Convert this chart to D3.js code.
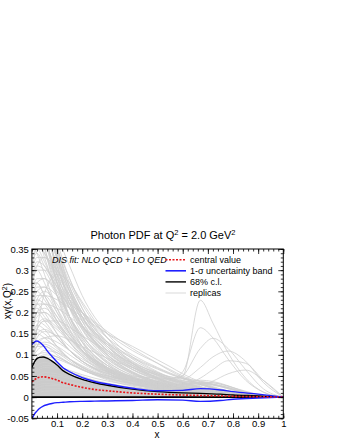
<!DOCTYPE html>
<html lang="en">
<head>
<meta charset="UTF-8">
<title>Photon PDF</title>
<script src="https://d3js.org/d3.v7.min.js"></script>
<style>
  body { margin: 0; background: #fff; }
  text { font-family: "Liberation Sans", Arial, sans-serif; }
</style>
</head>
<body>
<svg width="340" height="440"></svg>
<script>
    // x grid for the central value and the bands
    var bandX = [0, 0.01, 0.02, 0.03, 0.045, 0.06, 0.08, 0.1, 0.125, 0.15, 0.2, 0.25, 0.3, 0.4, 0.5, 0.6, 0.67, 0.75, 0.8, 0.9, 1];
    var central = [0.036, 0.041, 0.045, 0.047, 0.048, 0.047, 0.044, 0.040, 0.034, 0.030, 0.023, 0.018, 0.015, 0.010, 0.007, 0.005, 0.004, 0.003, 0.002, 0.001, 0];
    var cl68 = [0.070, 0.083, 0.091, 0.094, 0.095, 0.092, 0.085, 0.076, 0.062, 0.054, 0.042, 0.034, 0.028, 0.019, 0.013, 0.010, 0.009, 0.007, 0.005, 0.003, 0];
    var sigmaUp = [0.124, 0.130, 0.1325, 0.130, 0.122, 0.110, 0.096, 0.083, 0.069, 0.060, 0.046, 0.037, 0.031, 0.021, 0.015, 0.016, 0.020, 0.017, 0.013, 0.007, 0];
    var sigmaDown = [-0.052, -0.040, -0.033, -0.027, -0.021, -0.018, -0.015, -0.013, -0.012, -0.011, -0.010, -0.0095, -0.009, -0.008, -0.006, -0.007, -0.010, -0.008, -0.005, -0.002, 0];

    // x grid shared by the replicas
    var replicaX = [0, 0.02, 0.05, 0.1, 0.15, 0.2, 0.3, 0.4, 0.5, 0.55, 0.6, 0.67, 0.72, 0.78, 0.85, 0.92, 1];
    var replicas = [
        [0.80,0.62,0.45,0.29,0.19,0.13,0.065,0.035,0.02,0.015,0.012,0.009,0.007,0.005,0.003,0.001,0],
        [0.55,0.50,0.40,0.27,0.18,0.12,0.06,0.032,0.018,0.014,0.011,0.008,0.006,0.004,0.002,0.001,0],
        [0.42,0.42,0.37,0.27,0.19,0.135,0.07,0.04,0.024,0.018,0.014,0.011,0.008,0.006,0.003,0.001,0],
        [0.08,0.16,0.245,0.29,0.27,0.225,0.14,0.08,0.045,0.033,0.024,0.016,0.012,0.008,0.004,0.001,0],
        [0.35,0.37,0.34,0.26,0.19,0.14,0.08,0.047,0.028,0.021,0.016,0.012,0.009,0.006,0.003,0.001,0],
        [0.28,0.31,0.30,0.24,0.18,0.13,0.075,0.045,0.027,0.02,0.015,0.011,0.008,0.006,0.003,0.001,0],
        [0.22,0.26,0.26,0.21,0.16,0.12,0.07,0.043,0.027,0.02,0.015,0.011,0.008,0.006,0.003,0.001,0],
        [0.16,0.20,0.21,0.18,0.14,0.105,0.062,0.038,0.024,0.018,0.014,0.01,0.008,0.005,0.003,0.001,0],
        [0.12,0.15,0.16,0.14,0.11,0.085,0.052,0.033,0.021,0.016,0.012,0.009,0.007,0.005,0.002,0.001,0],
        [0.09,0.11,0.12,0.105,0.085,0.066,0.041,0.026,0.017,0.013,0.01,0.008,0.006,0.004,0.002,0.001,0],
        [0.06,0.075,0.082,0.074,0.061,0.049,0.031,0.02,0.013,0.01,0.008,0.006,0.005,0.003,0.002,0.001,0],
        [0.03,0.04,0.045,0.042,0.036,0.03,0.02,0.013,0.009,0.007,0.005,0.004,0.003,0.002,0.001,0,0],
        [0.65,0.56,0.44,0.30,0.21,0.15,0.08,0.045,0.026,0.019,0.014,0.01,0.008,0.005,0.003,0.001,0],
        [0.18,0.22,0.24,0.23,0.21,0.19,0.15,0.12,0.088,0.072,0.055,0.036,0.025,0.015,0.007,0.002,0],
        [0.25,0.28,0.28,0.25,0.22,0.2,0.155,0.115,0.08,0.062,0.047,0.03,0.02,0.012,0.005,0.002,0],
        [0.30,0.33,0.33,0.28,0.23,0.185,0.12,0.08,0.052,0.04,0.031,0.021,0.015,0.009,0.004,0.001,0],
        [0.2,0.22,0.2,0.15,0.11,0.085,0.06,0.05,0.045,0.044,0.05,0.229,0.175,0.105,0.045,0.012,0],
        [0.15,0.17,0.16,0.12,0.09,0.07,0.05,0.042,0.04,0.042,0.06,0.164,0.14,0.09,0.04,0.012,0],
        [0.1,0.12,0.12,0.1,0.08,0.065,0.047,0.04,0.037,0.038,0.05,0.115,0.139,0.115,0.065,0.02,0],
        [0.14,0.16,0.15,0.12,0.09,0.07,0.05,0.04,0.035,0.035,0.04,0.07,0.095,0.109,0.085,0.035,0],
        [0.2,0.21,0.19,0.15,0.11,0.085,0.055,0.04,0.032,0.03,0.03,0.045,0.065,0.086,0.08,0.04,0],
        [0.26,0.27,0.24,0.18,0.13,0.095,0.057,0.037,0.027,0.024,0.023,0.028,0.038,0.055,0.064,0.04,0],
        [0.32,0.34,0.31,0.26,0.23,0.2,0.15,0.11,0.08,0.065,0.05,0.033,0.023,0.014,0.006,0.002,0],
        [0.5,0.47,0.39,0.28,0.21,0.16,0.1,0.065,0.042,0.033,0.025,0.017,0.012,0.008,0.004,0.001,0],
        [0.38,0.38,0.33,0.24,0.17,0.12,0.065,0.037,0.022,0.017,0.013,0.01,0.007,0.005,0.002,0.001,0],
        [0.2,0.24,0.24,0.2,0.155,0.12,0.075,0.048,0.031,0.024,0.018,0.013,0.01,0.007,0.003,0.001,0],
        [0.14,0.17,0.185,0.165,0.135,0.105,0.067,0.043,0.028,0.022,0.017,0.012,0.009,0.006,0.003,0.001,0],
        [0.1,0.13,0.14,0.13,0.11,0.09,0.06,0.04,0.027,0.021,0.016,0.012,0.009,0.006,0.003,0.001,0],
        [0.045,0.06,0.07,0.068,0.058,0.048,0.033,0.023,0.016,0.012,0.01,0.007,0.005,0.004,0.002,0.001,0],
        [0.02,0.028,0.032,0.03,0.026,0.022,0.015,0.01,0.007,0.005,0.004,0.003,0.002,0.002,0.001,0,0],
        [0.9,0.7,0.5,0.32,0.22,0.16,0.09,0.055,0.034,0.026,0.02,0.014,0.01,0.007,0.003,0.001,0],
        [0.6,0.52,0.42,0.31,0.23,0.17,0.1,0.06,0.037,0.028,0.021,0.015,0.011,0.007,0.003,0.001,0],
        [0.45,0.44,0.38,0.29,0.22,0.17,0.105,0.066,0.042,0.032,0.024,0.017,0.012,0.008,0.004,0.001,0],
        [0.27,0.3,0.3,0.27,0.22,0.17,0.1,0.06,0.036,0.027,0.02,0.014,0.01,0.007,0.003,0.001,0],
        [0.19,0.22,0.22,0.19,0.15,0.115,0.068,0.04,0.024,0.018,0.013,0.01,0.007,0.005,0.002,0.001,0],
        [0.11,0.125,0.125,0.11,0.09,0.072,0.047,0.031,0.021,0.017,0.014,0.011,0.009,0.007,0.004,0.001,0],
        [0.16,0.18,0.17,0.14,0.11,0.085,0.055,0.038,0.03,0.028,0.03,0.036,0.034,0.026,0.014,0.004,0],
        [0.24,0.25,0.23,0.18,0.14,0.11,0.07,0.047,0.034,0.03,0.03,0.033,0.03,0.022,0.011,0.003,0],
        [0.13,0.15,0.14,0.115,0.09,0.07,0.045,0.032,0.025,0.024,0.026,0.03,0.028,0.02,0.01,0.003,0],
        [0.7,0.6,0.47,0.33,0.24,0.18,0.11,0.07,0.045,0.035,0.027,0.019,0.014,0.009,0.004,0.001,0],
        [0.4,0.41,0.37,0.3,0.24,0.19,0.125,0.083,0.055,0.043,0.033,0.023,0.017,0.011,0.005,0.001,0],
        [0.33,0.35,0.32,0.25,0.19,0.145,0.09,0.057,0.037,0.029,0.022,0.016,0.012,0.008,0.004,0.001,0],
        [0.07,0.09,0.1,0.095,0.08,0.066,0.045,0.031,0.021,0.017,0.013,0.01,0.008,0.005,0.002,0.001,0],
        [0.04,0.05,0.058,0.055,0.047,0.039,0.027,0.019,0.013,0.01,0.008,0.006,0.005,0.003,0.002,0.001,0],
        [0.01,0.015,0.02,0.02,0.018,0.015,0.01,0.007,0.005,0.004,0.003,0.002,0.002,0.001,0.001,0,0],
        [0.52,0.46,0.36,0.24,0.16,0.11,0.058,0.032,0.019,0.014,0.011,0.008,0.006,0.004,0.002,0.001,0],
        [0.3,0.3,0.27,0.2,0.15,0.11,0.064,0.039,0.025,0.019,0.015,0.011,0.008,0.005,0.003,0.001,0],
        [0.21,0.23,0.22,0.17,0.13,0.1,0.062,0.04,0.027,0.021,0.017,0.013,0.01,0.007,0.003,0.001,0],
        [0.085,0.1,0.105,0.095,0.08,0.065,0.043,0.029,0.02,0.016,0.012,0.009,0.007,0.005,0.002,0.001,0],
        [0.17,0.2,0.2,0.17,0.14,0.11,0.07,0.046,0.031,0.025,0.02,0.015,0.011,0.007,0.003,0.001,0],
        [1.0,0.75,0.52,0.33,0.23,0.165,0.095,0.058,0.036,0.028,0.021,0.015,0.011,0.007,0.003,0.001,0],
        [0.75,0.66,0.52,0.36,0.26,0.19,0.11,0.065,0.04,0.031,0.024,0.017,0.012,0.008,0.004,0.001,0],
        [0.62,0.58,0.48,0.35,0.26,0.2,0.12,0.075,0.047,0.036,0.028,0.019,0.014,0.009,0.004,0.001,0],
        [0.48,0.5,0.45,0.35,0.27,0.21,0.13,0.08,0.05,0.039,0.03,0.021,0.015,0.009,0.004,0.001,0],
        [0.36,0.42,0.42,0.35,0.28,0.21,0.125,0.075,0.045,0.034,0.026,0.018,0.013,0.008,0.004,0.001,0],
        [0.3,0.36,0.38,0.33,0.26,0.2,0.12,0.072,0.044,0.034,0.026,0.018,0.013,0.008,0.004,0.001,0],
        [0.26,0.31,0.33,0.3,0.25,0.2,0.13,0.085,0.055,0.042,0.032,0.022,0.016,0.01,0.004,0.001,0],
        [0.55,0.55,0.47,0.34,0.25,0.18,0.1,0.058,0.034,0.026,0.02,0.014,0.01,0.007,0.003,0.001,0],
        [0.44,0.46,0.41,0.31,0.23,0.17,0.095,0.055,0.033,0.025,0.019,0.013,0.01,0.006,0.003,0.001,0],
        [0.23,0.27,0.28,0.24,0.19,0.145,0.085,0.05,0.03,0.023,0.018,0.013,0.01,0.006,0.003,0.001,0],
        [0.18,0.23,0.25,0.22,0.17,0.13,0.075,0.045,0.028,0.022,0.017,0.012,0.009,0.006,0.003,0.001,0],
        [0.15,0.19,0.2,0.175,0.14,0.11,0.067,0.042,0.028,0.022,0.018,0.013,0.01,0.007,0.003,0.001,0],
        [0.12,0.16,0.18,0.16,0.13,0.1,0.065,0.043,0.03,0.025,0.02,0.015,0.011,0.007,0.003,0.001,0],
        [0.095,0.12,0.13,0.12,0.1,0.08,0.052,0.036,0.026,0.022,0.02,0.016,0.013,0.008,0.004,0.001,0],
        [0.065,0.085,0.095,0.09,0.078,0.064,0.045,0.033,0.025,0.022,0.02,0.017,0.013,0.009,0.004,0.001,0],
        [0.05,0.065,0.075,0.072,0.063,0.053,0.038,0.028,0.022,0.02,0.019,0.016,0.013,0.009,0.004,0.001,0],
        [0.035,0.045,0.052,0.05,0.044,0.038,0.028,0.022,0.018,0.017,0.017,0.015,0.012,0.008,0.004,0.001,0],
        [0.28,0.32,0.31,0.26,0.21,0.17,0.11,0.075,0.055,0.048,0.044,0.038,0.03,0.02,0.009,0.002,0],
        [0.34,0.36,0.34,0.29,0.24,0.2,0.14,0.1,0.07,0.057,0.046,0.032,0.023,0.014,0.006,0.002,0],
        [0.21,0.25,0.26,0.24,0.21,0.18,0.13,0.095,0.068,0.055,0.044,0.03,0.021,0.013,0.005,0.001,0],
        [0.16,0.2,0.22,0.21,0.19,0.165,0.125,0.092,0.066,0.054,0.044,0.031,0.022,0.013,0.005,0.001,0],
        [0.13,0.16,0.18,0.18,0.165,0.145,0.11,0.08,0.058,0.048,0.04,0.03,0.022,0.013,0.005,0.001,0],
        [0.09,0.12,0.14,0.145,0.135,0.12,0.092,0.07,0.052,0.044,0.038,0.03,0.022,0.013,0.005,0.001,0],
        [0.42,0.4,0.35,0.27,0.21,0.165,0.105,0.07,0.048,0.04,0.036,0.034,0.03,0.022,0.01,0.003,0],
        [0.58,0.5,0.39,0.27,0.19,0.14,0.083,0.052,0.035,0.03,0.03,0.035,0.034,0.026,0.012,0.003,0],
        [0.36,0.34,0.29,0.21,0.15,0.11,0.065,0.042,0.03,0.027,0.028,0.032,0.03,0.022,0.01,0.003,0],
        [0.27,0.27,0.24,0.19,0.145,0.11,0.07,0.047,0.035,0.032,0.034,0.04,0.037,0.027,0.012,0.003,0],
        [0.2,0.2,0.18,0.14,0.11,0.085,0.056,0.04,0.031,0.029,0.03,0.033,0.031,0.023,0.011,0.003,0],
        [0.85,0.68,0.5,0.34,0.25,0.19,0.12,0.078,0.052,0.042,0.034,0.024,0.017,0.01,0.004,0.001,0],
        [0.66,0.6,0.5,0.37,0.28,0.22,0.14,0.09,0.058,0.045,0.035,0.024,0.017,0.01,0.004,0.001,0],
        [0.4,0.45,0.44,0.38,0.31,0.24,0.15,0.095,0.06,0.046,0.036,0.025,0.018,0.011,0.005,0.001,0],
        [0.52,0.52,0.45,0.33,0.25,0.19,0.115,0.07,0.043,0.033,0.025,0.017,0.012,0.008,0.003,0.001,0],
        [0.11,0.14,0.155,0.145,0.12,0.095,0.06,0.039,0.026,0.021,0.017,0.013,0.01,0.006,0.003,0.001,0],
        [0.075,0.095,0.11,0.105,0.09,0.074,0.05,0.034,0.024,0.019,0.016,0.012,0.009,0.006,0.003,0.001,0],
        [0.025,0.035,0.04,0.038,0.034,0.029,0.021,0.016,0.012,0.011,0.01,0.009,0.007,0.005,0.002,0.001,0],
        [0.015,0.022,0.027,0.027,0.024,0.021,0.016,0.012,0.009,0.008,0.007,0.006,0.005,0.003,0.002,0,0],
        [0.005,0.01,0.014,0.015,0.014,0.012,0.009,0.007,0.005,0.005,0.004,0.004,0.003,0.002,0.001,0,0]
    ];

    var xTicks = [0.1, 0.2, 0.3, 0.4, 0.5, 0.6, 0.7, 0.8, 0.9, 1];
    var xTickLabels = ["0.1", "0.2", "0.3", "0.4", "0.5", "0.6", "0.7", "0.8", "0.9", "1"];
    var yTicks = [-0.05, 0, 0.05, 0.1, 0.15, 0.2, 0.25, 0.3, 0.35];
    var yTickLabels = ["-0.05", "0", "0.05", "0.1", "0.15", "0.2", "0.25", "0.3", "0.35"];
    var legendLabels = ["central value", "1-\u03c3 uncertainty band", "68% c.l.", "replicas"];

    var frameL = 31.9, frameR = 283.3, frameT = 249, frameB = 418.3;
    var svg = d3.select("svg");

    var x = d3.scaleLinear().domain([0, 1]).range([frameL, frameR]);
    var y = d3.scaleLinear().domain([-0.05, 0.35]).range([frameB, frameT]);

    svg.append("defs").append("clipPath").attr("id", "plot")
        .append("rect")
        .attr("x", frameL).attr("y", frameT)
        .attr("width", frameR - frameL).attr("height", frameB - frameT);

    var plot = svg.append("g").attr("clip-path", "url(#plot)");

    // 68% c.l. band, shaded from zero up to its upper edge
    var band = d3.area()
        .x(function (d, i) { return x(bandX[i]); })
        .y0(function () { return y(0); })
        .y1(function (d) { return y(d); })
        .curve(d3.curveMonotoneX);
    plot.append("path")
        .attr("d", band(cl68))
        .attr("fill", "#cbcbcb");

    var replicaLine = d3.line()
        .x(function (d, i) { return x(replicaX[i]); })
        .y(function (d) { return y(d); })
        .curve(d3.curveMonotoneX);
    plot.append("g")
        .selectAll("path")
        .data(replicas)
        .enter().append("path")
        .attr("d", replicaLine)
        .attr("fill", "none")
        .attr("stroke", "#cfcfcf")
        .attr("stroke-width", 0.8);

    var bandLine = d3.line()
        .x(function (d, i) { return x(bandX[i]); })
        .y(function (d) { return y(d); })
        .curve(d3.curveMonotoneX);

    plot.append("line")
        .attr("x1", frameL).attr("x2", frameR)
        .attr("y1", y(0)).attr("y2", y(0))
        .attr("stroke", "#000")
        .attr("stroke-width", 1.6);

    plot.append("path").attr("d", bandLine(cl68))
        .attr("fill", "none").attr("stroke", "#000").attr("stroke-width", 1.4);
    plot.append("path").attr("d", bandLine(sigmaUp))
        .attr("fill", "none").attr("stroke", "#1f1fff").attr("stroke-width", 1.4);
    plot.append("path").attr("d", bandLine(sigmaDown))
        .attr("fill", "none").attr("stroke", "#1f1fff").attr("stroke-width", 1.4);
    plot.append("path").attr("d", bandLine(central))
        .attr("fill", "none").attr("stroke", "#e8161b").attr("stroke-width", 1.6)
        .attr("stroke-dasharray", "2,1.5");

    // axes, ROOT style: ticks pointing inwards on all four sides
    function minor(step, lo, hi) {
        return d3.range(Math.round(lo / step), Math.round(hi / step) + 1).map(function (k) { return k * step; });
    }
    var xMinor = minor(0.02, 0, 1);
    var yMinor = minor(0.01, -0.05, 0.35);

    function styleAxis(sel) {
        sel.select(".domain").remove();
        sel.selectAll(".tick line").attr("stroke", "#000").attr("stroke-width", 0.8);
        sel.selectAll("text").attr("font-size", 9.5).attr("fill", "#000")
            .attr("font-family", "'Liberation Sans', Arial, sans-serif");
    }

    svg.append("g").attr("transform", "translate(0," + frameB + ")")
        .call(d3.axisBottom(x).tickValues(xMinor).tickSize(-2.5).tickFormat(""))
        .call(styleAxis);
    svg.append("g").attr("transform", "translate(0," + frameB + ")")
        .call(d3.axisBottom(x).tickValues(xTicks).tickSize(-5).tickPadding(2)
            .tickFormat(function (d, i) { return xTickLabels[i]; }))
        .call(styleAxis);
    svg.append("g").attr("transform", "translate(0," + frameT + ")")
        .call(d3.axisTop(x).tickValues(xMinor).tickSize(-2.5).tickFormat(""))
        .call(styleAxis);
    svg.append("g").attr("transform", "translate(0," + frameT + ")")
        .call(d3.axisTop(x).tickValues(xTicks).tickSize(-5).tickFormat(""))
        .call(styleAxis);

    svg.append("g").attr("transform", "translate(" + frameL + ",0)")
        .call(d3.axisLeft(y).tickValues(yMinor).tickSize(-2.5).tickFormat(""))
        .call(styleAxis);
    svg.append("g").attr("transform", "translate(" + frameL + ",0)")
        .call(d3.axisLeft(y).tickValues(yTicks).tickSize(-5).tickPadding(3)
            .tickFormat(function (d, i) { return yTickLabels[i]; }))
        .call(styleAxis);
    svg.append("g").attr("transform", "translate(" + frameR + ",0)")
        .call(d3.axisRight(y).tickValues(yMinor).tickSize(-2.5).tickFormat(""))
        .call(styleAxis);
    svg.append("g").attr("transform", "translate(" + frameR + ",0)")
        .call(d3.axisRight(y).tickValues(yTicks).tickSize(-5).tickFormat(""))
        .call(styleAxis);

    svg.append("rect")
        .attr("x", frameL).attr("y", frameT)
        .attr("width", frameR - frameL).attr("height", frameB - frameT)
        .attr("fill", "none").attr("stroke", "#000").attr("stroke-width", 1);

    // titles
    var title = svg.append("text")
        .attr("x", 163).attr("y", 238.5)
        .attr("text-anchor", "middle")
        .attr("font-size", 11);
    title.append("tspan").text("Photon PDF at Q");
    title.append("tspan").attr("dy", -4).attr("font-size", 7.5).text("2");
    title.append("tspan").attr("dy", 4).text(" = 2.0 GeV");
    title.append("tspan").attr("dy", -4).attr("font-size", 7.5).text("2");

    svg.append("text")
        .attr("x", 157).attr("y", 437.5)
        .attr("text-anchor", "middle")
        .attr("font-size", 10)
        .text("x");

    var ylab = svg.append("text")
        .attr("transform", "translate(11,283) rotate(-90)")
        .attr("text-anchor", "end")
        .attr("font-size", 10);
    ylab.append("tspan").text("x\u03b3(x,Q");
    ylab.append("tspan").attr("dy", -4).attr("font-size", 7).text("2");
    ylab.append("tspan").attr("dy", 4).text(")");

    // legend
    svg.append("text")
        .attr("x", 52).attr("y", 262.5)
        .attr("font-size", 9)
        .attr("font-style", "italic")
        .text("DIS fit: NLO QCD + LO QED");

    var legendStyles = [
        {stroke: "#e8161b", width: 1.6, dash: "2,1.5"},
        {stroke: "#1f1fff", width: 1.6, dash: null},
        {stroke: "#000", width: 1.4, dash: null},
        {stroke: "#cfcfcf", width: 0.8, dash: null}
    ];
    var legend = svg.append("g")
        .selectAll("g")
        .data(legendLabels)
        .enter().append("g")
        .attr("transform", function (d, i) { return "translate(0," + (259.7 + i * 11.1) + ")"; });
    legend.append("line")
        .attr("x1", 165.5).attr("x2", 186)
        .attr("stroke", function (d, i) { return legendStyles[i].stroke; })
        .attr("stroke-width", function (d, i) { return legendStyles[i].width; })
        .attr("stroke-dasharray", function (d, i) { return legendStyles[i].dash; });
    legend.append("text")
        .attr("x", 190)
        .attr("y", 3.2)
        .attr("font-size", 9)
        .text(function (d) { return d; });
</script>
</body>
</html>
